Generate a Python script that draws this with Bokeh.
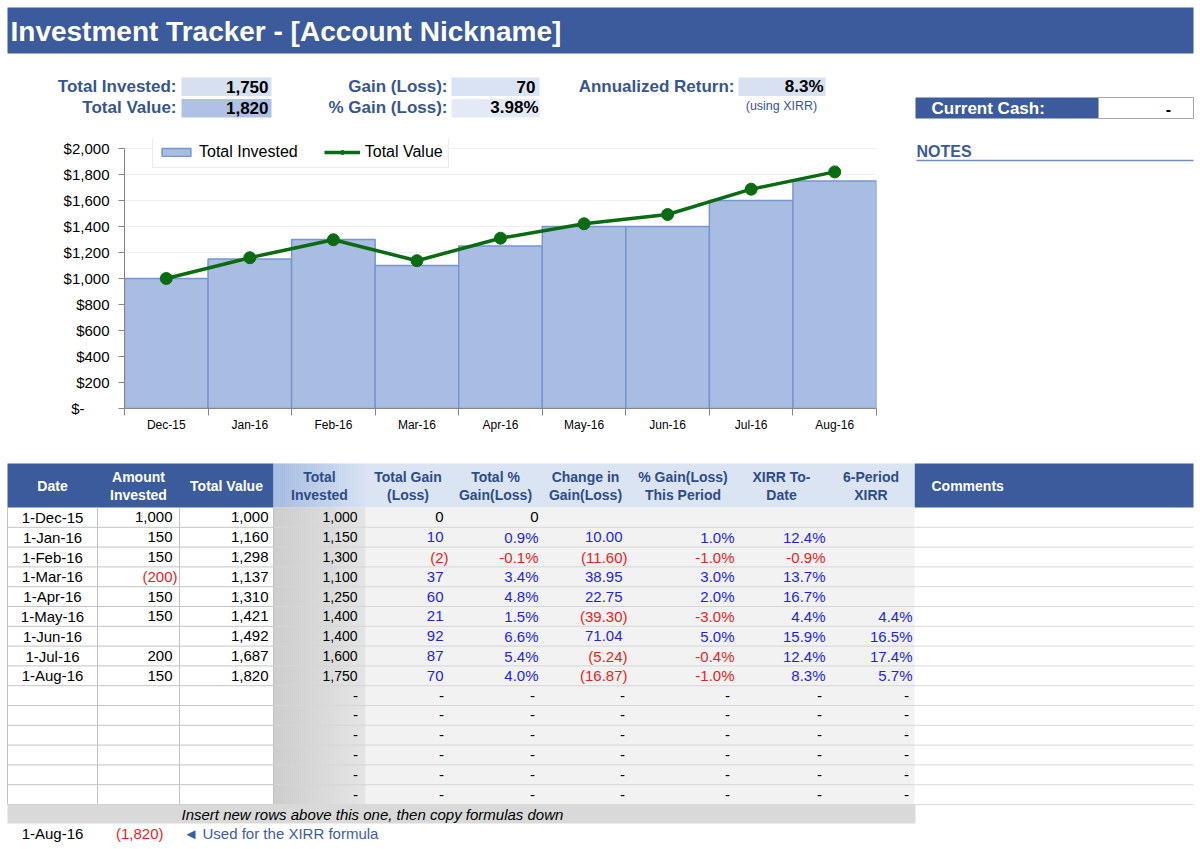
from bokeh.plotting import figure
from bokeh.models import Range1d, FixedTicker, NumeralTickFormatter
from bokeh.layouts import column, row
from bokeh.core.properties import value
from bokeh.embed import file_html
from bokeh.resources import INLINE

# ---------------------------------------------------------------- data
months = ["Dec-15", "Jan-16", "Feb-16", "Mar-16", "Apr-16", "May-16", "Jun-16", "Jul-16", "Aug-16"]
dates = ["1-Dec-15", "1-Jan-16", "1-Feb-16", "1-Mar-16", "1-Apr-16", "1-May-16", "1-Jun-16", "1-Jul-16", "1-Aug-16"]
amount_invested = [1000, 150, 150, -200, 150, 150, None, 200, 150]
total_value = [1000, 1160, 1298, 1137, 1310, 1421, 1492, 1687, 1820]
total_invested = [1000, 1150, 1300, 1100, 1250, 1400, 1400, 1600, 1750]
total_gain = [0, 10, -2, 37, 60, 21, 92, 87, 70]
total_pct_gain = [0, 0.9, -0.1, 3.4, 4.8, 1.5, 6.6, 5.4, 4.0]
change_in_gain = [None, 10.00, -11.60, 38.95, 22.75, -39.30, 71.04, -5.24, -16.87]
period_pct_gain = [None, 1.0, -1.0, 3.0, 2.0, -3.0, 5.0, -0.4, -1.0]
xirr_to_date = [None, 12.4, -0.9, 13.7, 16.7, 4.4, 15.9, 12.4, 8.3]
xirr_6_period = [None, None, None, None, None, 4.4, 16.5, 17.4, 5.7]
y_ticks = [0, 200, 400, 600, 800, 1000, 1200, 1400, 1600, 1800, 2000]
overall_pct_gain = 3.98
annualized_return = 8.3
blank_rows = 6

# ---------------------------------------------------------------- styles
FONT_NAME = "Liberation Sans"
FONT = value(FONT_NAME)
BLUE = "#3c5b9c"
LABEL_BLUE = "#37568f"
HEAD_TXT = "#2e4c88"
BLUE_TXT = "#1f1fe6"
RED_TXT = "#e61e1e"
GREEN = "#0a6b12"
BAR_FILL = "#a9bde2"
BAR_LINE = "#7895cf"

# chart frame borders (shared by the notes pane so the row keeps its frames aligned)
CH_TOP, CH_BOTTOM = 8, 52


def canvas(x0, x1, y0, y1, top=0, bottom=0):
    """A blank figure whose data units are page pixels (y grows downward)."""
    p = figure(width=x1 - x0, height=(y1 - y0) + top + bottom, x_range=Range1d(x0, x1),
               y_range=Range1d(y1, y0), output_backend="svg", toolbar_location=None,
               min_border=0, min_border_top=top, min_border_bottom=bottom,
               x_axis_location=None, y_axis_location=None)
    p.grid.visible = False
    p.outline_line_color = None
    p.background_fill_color = "white"
    p.border_fill_color = "white"
    return p


def txt(p, xs, ys, texts, align="left", color="black", size="15px", style="normal", lh=1.2):
    p.text(x=xs, y=ys, text=texts, text_align=align, text_baseline="middle",
           text_color=color, text_font=FONT, text_font_size=size,
           text_font_style=style, text_line_height=lh)


def box(p, l, r, t, b, fill, line=None, lw=1):
    p.quad(left=[l], right=[r], top=[t], bottom=[b], fill_color=fill,
           line_color=line, line_width=lw)


def blend(c0, c1, t):
    return "#%02x%02x%02x" % tuple(round(a + (b - a) * t) for a, b in zip(c0, c1))


def gradient(p, l, r, t, b, c0, c1, steps=46):
    w = (r - l) / steps
    lefts = [l + i * w for i in range(steps)]
    p.quad(left=lefts, right=[x + w + 0.4 for x in lefts], top=[t] * steps, bottom=[b] * steps,
           fill_color=[blend(c0, c1, i / (steps - 1)) for i in range(steps)], line_color=None)


def fmt_num(v, dec=0):
    if v is None:
        return ""
    if v == 0:
        return "0"
    s = f"{abs(v):,.{dec}f}"
    return f"({s})" if v < 0 else s


def fmt_pct(v):
    if v is None:
        return ""
    if v == 0:
        return "0"
    return f"{v:.1f}%"


def sign_color(v):
    if v is None or v == 0:
        return "black"
    return BLUE_TXT if v > 0 else RED_TXT


# ---------------------------------------------------------------- header band
head = canvas(0, 1200, 0, 130)
box(head, 7, 1193, 7, 53, BLUE)
txt(head, [10], [31], ["Investment Tracker - [Account Nickname]"], color="white", size="28px", style="bold")

cur_invested = total_invested[-1]
cur_value = total_value[-1]
cur_gain = cur_value - cur_invested

box(head, 181, 271, 77, 95.5, "#d6e0f1")
box(head, 181, 271, 98.5, 117, "#afc2e5")
box(head, 451, 539, 77, 95.5, "#dae3f3")
box(head, 451, 539, 98.5, 117, "#e4eaf5")
box(head, 738, 825, 77, 95.5, "#d8e1f2")
txt(head, [176, 176, 447, 447, 734], [86, 107, 86, 107, 86],
    ["Total Invested:", "Total Value:", "Gain (Loss):", "% Gain (Loss):", "Annualized Return:"],
    align="right", color=LABEL_BLUE, size="17px", style="bold")
txt(head, [268, 268, 535, 538, 823], [86, 107, 86, 107, 86],
    [fmt_num(cur_invested), fmt_num(cur_value), fmt_num(cur_gain),
     f"{overall_pct_gain:.2f}%", f"{annualized_return:.1f}%"],
    align="right", color="black", size="17px", style="bold")
txt(head, [781], [105], ["(using XIRR)"], align="center", color=LABEL_BLUE, size="12.5px")

box(head, 915, 1098, 97, 118, BLUE)
box(head, 1098, 1193, 97, 118, "white", line="#a6a6a6")
txt(head, [931], [107.5], ["Current Cash:"], color="white", size="17px", style="bold")
txt(head, [1168], [108.5], ["-"], align="center", size="16px", style="bold")

# ---------------------------------------------------------------- chart
xs = list(range(1, len(months) + 1))
CH_H = 330
px_per_unit = 260 / 2000            # $2,000 spans 260 px
y_top = (CH_H - CH_TOP - CH_BOTTOM) / px_per_unit   # a little headroom above $2,000 for the legend
chart = figure(width=905, height=CH_H, x_range=Range1d(0.5, len(months) + 0.5), y_range=Range1d(0, y_top),
               output_backend="svg", toolbar_location=None,
               min_border_left=124, min_border_right=29, min_border_top=CH_TOP, min_border_bottom=CH_BOTTOM)
chart.outline_line_color = None
chart.background_fill_color = "white"
chart.border_fill_color = "white"

chart.vbar(x=xs, top=total_invested, width=1.0, fill_color=BAR_FILL, line_color=BAR_LINE,
           line_width=1.5, legend_label="Total Invested")
chart.line(xs, total_value, line_color=GREEN, line_width=3.5, legend_label="Total Value")
chart.scatter(xs, total_value, size=12, fill_color=GREEN, line_color=GREEN, legend_label="Total Value")

chart.xgrid.visible = False
chart.ygrid.grid_line_color = "#efefef"
chart.ygrid.ticker = FixedTicker(ticks=y_ticks)

xa = chart.xaxis[0]
xa.ticker = FixedTicker(ticks=xs, minor_ticks=[x - 0.5 for x in xs] + [xs[-1] + 0.5])
xa.major_label_overrides = {x: m for x, m in zip(xs, months)}
xa.major_tick_line_color = None
xa.major_tick_out = 0
xa.major_tick_in = 0
xa.minor_tick_line_color = "#868686"
xa.minor_tick_out = 7
xa.minor_tick_in = 0
xa.axis_line_color = "#868686"
xa.major_label_text_font = FONT_NAME
xa.major_label_text_font_size = "12px"
xa.major_label_text_color = "black"
xa.major_label_standoff = 2

ya = chart.yaxis[0]
ya.ticker = FixedTicker(ticks=y_ticks)
ya.bounds = (0, 2000)
ya.formatter = NumeralTickFormatter(format="$0,0")
ya.major_label_overrides = {0: "$-\u2007\u2007\u2007"}
ya.major_tick_line_color = "#868686"
ya.major_tick_out = 6
ya.major_tick_in = 0
ya.minor_tick_line_color = None
ya.axis_line_color = "#868686"
ya.major_label_text_font = FONT_NAME
ya.major_label_text_font_size = "15px"
ya.major_label_text_color = "black"
ya.major_label_standoff = 9

lg = chart.legend[0]
lg.orientation = "horizontal"
lg.location = (28, 240)
lg.label_text_font = FONT_NAME
lg.label_text_font_size = "16px"
lg.label_text_color = "black"
lg.border_line_color = "#d9d9d9"
lg.background_fill_color = "white"
lg.background_fill_alpha = 1.0
lg.padding = 5
lg.spacing = 26
lg.margin = 0
lg.glyph_width = 36
lg.glyph_height = 10
lg.label_height = 20
lg.label_standoff = 5

# ---------------------------------------------------------------- notes pane
notes = canvas(905, 1200, 130 + CH_TOP, 130 + CH_H - CH_BOTTOM, top=CH_TOP, bottom=CH_BOTTOM)
txt(notes, [916], [151], ["NOTES"], color=BLUE, size="16px", style="bold")
notes.segment(x0=[916], y0=[160], x1=[1193], y1=[160], line_color="#6f8cc4", line_width=1.5)

# ---------------------------------------------------------------- table
table = canvas(0, 1200, 460, 849)
edges = [7, 97, 179, 273, 365, 450, 540, 630, 735, 827, 914, 1193]
centers = [(a + b) / 2 for a, b in zip(edges[:-1], edges[1:])]
TOP, HB, RH = 463, 507, 19.8
n_rows = len(dates) + blank_rows
BB = HB + n_rows * RH
row_y = [HB + RH * (i + 0.5) for i in range(n_rows)]

# header cells
box(table, 7, 273, TOP, HB, BLUE)
box(table, 914, 1193, TOP, HB, BLUE)
box(table, 365, 914, TOP, HB, "#dae4f3")
gradient(table, 273, 365, TOP, HB, (164, 186, 224), (214, 225, 242))

# body fills
gradient(table, 273, 365, HB, BB, (204, 204, 204), (228, 228, 228))
box(table, 365, 914, HB, BB, "#f2f2f2")

# row separators
seps = [HB + RH * (i + 1) for i in range(n_rows)]
table.segment(x0=[7] * n_rows, x1=[273] * n_rows, y0=seps, y1=seps, line_color="#c4c4c4", line_width=1)
table.segment(x0=[273] * n_rows, x1=[914] * n_rows, y0=seps, y1=seps, line_color="#d6d6d6", line_width=1)
table.segment(x0=[914] * n_rows, x1=[1193] * n_rows, y0=seps, y1=seps, line_color="#d9d9d9", line_width=1)
vx = [7, 97, 179, 273]
table.segment(x0=vx, x1=vx, y0=[HB] * 4, y1=[BB] * 4, line_color="#c4c4c4", line_width=1)

# header labels
headers = ["Date", "Amount\nInvested", "Total Value", "Total\nInvested", "Total Gain\n(Loss)",
           "Total %\nGain(Loss)", "Change in\nGain(Loss)", "% Gain(Loss)\nThis Period",
           "XIRR To-\nDate", "6-Period\nXIRR"]
head_colors = ["white"] * 3 + [HEAD_TXT] * 7
txt(table, centers[:10], [485.5] * 10, headers, align="center", color=head_colors,
    size="14px", style="bold", lh=1.1)
txt(table, [931], [485.5], ["Comments"], color="white", size="14px", style="bold")

# body values
n = len(dates)
ry = row_y[:n]
txt(table, [52] * n, ry, dates, align="center")

PAREN = 5  # width of the closing parenthesis that negatives hang into


def num_column(vals, right, dec=0, colorize=True, size="15px"):
    xs_, ys_, ts_, cs_ = [], [], [], []
    for v, y in zip(vals, ry):
        if v is None:
            continue
        xs_.append(right + (PAREN if v < 0 else 0))
        ys_.append(y)
        ts_.append(fmt_num(v, dec))
        if colorize:
            cs_.append(sign_color(v))
        else:
            cs_.append(RED_TXT if v < 0 else "black")
    txt(table, xs_, ys_, ts_, align="right", color=cs_, size=size)


def pct_column(vals, right):
    keep = [(v, y) for v, y in zip(vals, ry) if v is not None]
    txt(table, [right] * len(keep), [y for _, y in keep], [fmt_pct(v) for v, _ in keep],
        align="right", color=[sign_color(v) for v, _ in keep])


num_column(amount_invested, 172, colorize=False)
num_column(total_value, 268, colorize=False)
num_column(total_invested, 357, colorize=False, size="14px")
num_column(total_gain, 443)
pct_column(total_pct_gain, 538)
num_column(change_in_gain, 622, dec=2)
pct_column(period_pct_gain, 734)
pct_column(xirr_to_date, 825)
pct_column(xirr_6_period, 912)

# empty rows keep their formulas, showing dashes
dash_x = [355, 441, 532, 622, 727, 819, 906]
bx, by = [], []
for y in row_y[n:]:
    bx += dash_x
    by += [y] * len(dash_x)
txt(table, bx, by, ["-"] * len(bx), align="center", size="15px")

# footer
box(table, 7, 915, BB, BB + 19, "#d9d9d9")
txt(table, [181], [BB + 9.5], ["Insert new rows above this one, then copy formulas down"],
    size="15px", style="italic")
txt(table, [52], [833], [dates[-1]], align="center")
txt(table, [163], [833], [fmt_num(-total_value[-1])], align="right", color=RED_TXT)
txt(table, [183], [833], ["\u25c4 Used for the XIRR formula"], color="#3d5ca8")

layout = column(head, row(chart, notes), table)

with open("out.html", "w") as f:
    f.write(file_html(layout, INLINE))
